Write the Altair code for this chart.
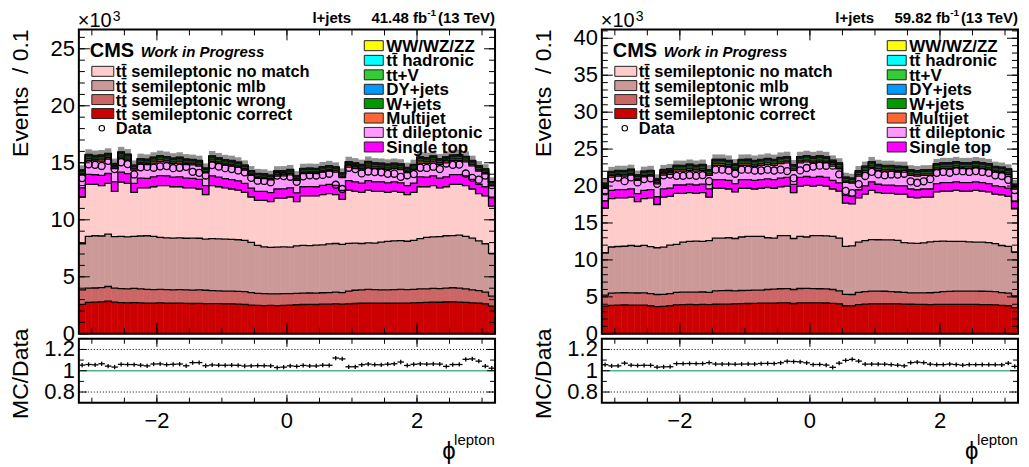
import altair as alt
import numpy as np
import pandas as pd

FONT = "Liberation Sans"
NB = 64
edges = np.round(np.linspace(-3.2, 3.2, NB + 1), 3)
lo, hi = edges[:-1], edges[1:]
mid = (lo + hi) / 2

names = ["tt̄ semileptonic correct", "tt̄ semileptonic wrong", "tt̄ semileptonic mlb",
         "tt̄ semileptonic no match", "Single top", "tt̄ dileptonic", "Multijet", "W+jets",
         "DY+jets", "tt+V", "tt̄ hadronic", "WW/WZ/ZZ"]
colors = ["#cc0000", "#cc6666", "#cc9999", "#ffcccc", "#ff00ff", "#ff99ff", "#ff6633",
          "#009900", "#0099ff", "#33cc33", "#00ffff", "#ffff00"]

# ---------------- 2017 (41.48 fb-1), values in thousands of events ----------------
top_correct_17 = [2.58,2.75,2.78,2.80,2.87,2.78,2.74,2.72,2.74,2.72, 2.70,2.70,2.72,2.69,2.68,2.69,2.67,2.66,2.67,2.65,
                  2.64,2.64,2.62,2.63,2.60,2.58,2.52,2.50,2.48,2.49, 2.48,2.50,2.52,2.55,2.57,2.58,2.57,2.60,2.60,2.62,
                  2.60,2.63,2.66,2.68,2.70,2.69,2.70,2.68,2.70,2.69, 2.70,2.72,2.74,2.76,2.78,2.77,2.79,2.80,2.78,2.76,
                  2.72,2.68,2.62,2.43]
top_wrong_17 = [3.86,4.00,4.02,4.05,4.15,4.00,3.97,3.95,3.98,3.95, 3.90,3.88,3.90,3.87,3.86,3.88,3.85,3.84,3.86,3.82,
                3.78,3.76,3.74,3.75,3.72,3.70,3.62,3.55,3.52,3.50, 3.51,3.53,3.52,3.55,3.57,3.58,3.56,3.60,3.62,3.65,
                3.62,3.75,3.82,3.86,3.90,3.88,3.86,3.85,3.88,3.90, 3.88,3.90,3.94,3.95,3.98,3.96,4.00,4.04,4.00,3.95,
                3.85,3.78,3.66,3.30]
top_mlb_17 = [7.90,8.55,8.60,8.58,8.75,8.52,8.55,8.50,8.55,8.58, 8.60,8.55,8.45,8.42,8.40,8.42,8.38,8.40,8.38,8.30,
              8.35,8.32,8.30,8.28,8.25,8.20,8.02,7.75,7.62,7.58, 7.60,7.62,7.60,7.72,7.75,7.73,7.78,7.80,7.88,7.92,
              7.85,7.93,7.95,7.92,7.98,7.95,8.05,8.10,8.15,8.18, 8.12,8.20,8.35,8.45,8.50,8.52,8.60,8.62,8.65,8.55,
              8.40,8.15,7.90,7.06]
top_nomatch_17 = [12.0,13.1,13.1,13.0,13.2,12.5,13.3,13.2,12.4,12.8, 12.8,12.9,13.0,13.0,12.9,12.9,12.8,12.8,12.7,12.2,
                  13.0,12.9,12.8,12.7,12.6,12.4,12.0,11.7,11.7,11.6, 11.9,11.9,12.0,11.6,12.1,12.1,12.1,12.2,12.3,12.2,
                  11.8,12.6,12.5,12.4,12.6,12.5,12.5,12.4,12.5,12.4, 12.2,12.4,12.9,12.9,13.0,12.8,12.9,13.1,13.1,13.0,
                  12.7,12.3,12.1,11.2]
singletop_17 = [0.80,0.88,0.85,0.90,0.86,0.82,0.88,0.85,0.80,0.86, 0.84,0.86,0.88,0.85,0.84,0.86,0.85,0.83,0.84,0.80,
                0.86,0.84,0.82,0.83,0.82,0.80,0.78,0.80,0.79,0.78, 0.80,0.81,0.80,0.77,0.80,0.81,0.80,0.82,0.81,0.82,
                0.78,0.84,0.83,0.82,0.84,0.83,0.82,0.83,0.82,0.83, 0.80,0.82,0.86,0.85,0.86,0.85,0.87,0.86,0.87,0.86,
                0.84,0.82,0.80,0.72]
dilep_17 = [1.15,1.25,1.22,1.24,1.26,1.18,1.24,1.20,1.16,1.22, 1.20,1.22,1.23,1.21,1.20,1.22,1.20,1.19,1.18,1.12,
            1.22,1.20,1.18,1.18,1.17,1.15,1.12,1.14,1.13,1.12, 1.14,1.15,1.14,1.10,1.15,1.16,1.15,1.16,1.17,1.16,
            1.12,1.18,1.17,1.16,1.19,1.18,1.17,1.18,1.17,1.18, 1.15,1.17,1.22,1.21,1.22,1.21,1.23,1.22,1.23,1.22,
            1.19,1.16,1.14,1.05]
multijet_17 = [0.12,0.16,0.14,0.18,0.15,0.13,0.17,0.16,0.12,0.15, 0.14,0.16,0.17,0.15,0.14,0.16,0.15,0.14,0.15,0.12,
               0.17,0.15,0.14,0.15,0.14,0.13,0.12,0.13,0.12,0.12, 0.14,0.13,0.14,0.12,0.14,0.13,0.14,0.15,0.14,0.13,
               0.12,0.16,0.15,0.14,0.16,0.15,0.14,0.15,0.14,0.15, 0.13,0.14,0.18,0.16,0.17,0.15,0.18,0.16,0.17,0.15,
               0.14,0.13,0.12,0.10]
wjets_17 = [0.19,0.21,0.20,0.22,0.21,0.19,0.22,0.21,0.19,0.21, 0.20,0.21,0.22,0.21,0.20,0.21,0.20,0.20,0.20,0.18,
            0.21,0.21,0.20,0.20,0.20,0.19,0.18,0.19,0.19,0.18, 0.19,0.19,0.19,0.18,0.19,0.20,0.19,0.20,0.20,0.19,
            0.18,0.20,0.20,0.20,0.21,0.20,0.20,0.20,0.20,0.20, 0.19,0.20,0.21,0.21,0.21,0.20,0.22,0.21,0.21,0.21,
            0.20,0.20,0.19,0.17]
dy_17 = [0.04,0.05,0.05,0.05,0.06,0.05,0.05,0.05,0.04,0.05, 0.05,0.05,0.05,0.05,0.05,0.05,0.05,0.05,0.05,0.04,
         0.05,0.05,0.05,0.05,0.05,0.05,0.04,0.04,0.04,0.04, 0.05,0.05,0.05,0.04,0.05,0.05,0.05,0.05,0.05,0.05,
         0.04,0.05,0.05,0.05,0.05,0.05,0.05,0.05,0.05,0.05, 0.05,0.05,0.05,0.05,0.06,0.05,0.05,0.05,0.05,0.05,
         0.05,0.05,0.04,0.04]
ttv_17 = [0.05,0.05,0.05,0.06,0.05,0.05,0.05,0.05,0.05,0.05, 0.05,0.05,0.05,0.05,0.05,0.05,0.05,0.05,0.05,0.05,
          0.05,0.05,0.05,0.05,0.05,0.05,0.04,0.04,0.04,0.04, 0.05,0.05,0.05,0.04,0.05,0.05,0.05,0.05,0.05,0.05,
          0.04,0.05,0.05,0.05,0.05,0.05,0.05,0.05,0.05,0.05, 0.05,0.05,0.05,0.05,0.05,0.05,0.06,0.05,0.05,0.05,
          0.05,0.05,0.05,0.04]
tthad_17 = [0.01,0.02,0.01,0.01,0.02,0.01,0.01,0.02,0.01,0.01, 0.01,0.02,0.01,0.01,0.01,0.02,0.01,0.01,0.01,0.01,
            0.02,0.01,0.01,0.01,0.01,0.01,0.01,0.01,0.01,0.01, 0.01,0.01,0.02,0.01,0.01,0.01,0.01,0.01,0.02,0.01,
            0.01,0.01,0.01,0.02,0.01,0.01,0.01,0.01,0.01,0.02, 0.01,0.01,0.02,0.01,0.01,0.01,0.02,0.01,0.01,0.01,
            0.01,0.01,0.01,0.01]
vv_17 = [0.02,0.02,0.02,0.02,0.02,0.02,0.03,0.02,0.02,0.02, 0.02,0.02,0.02,0.02,0.02,0.02,0.02,0.02,0.02,0.02,
         0.02,0.02,0.02,0.03,0.02,0.02,0.02,0.02,0.02,0.02, 0.02,0.02,0.02,0.02,0.02,0.02,0.02,0.02,0.02,0.02,
         0.02,0.02,0.03,0.02,0.02,0.02,0.02,0.02,0.02,0.02, 0.02,0.02,0.02,0.02,0.02,0.03,0.02,0.02,0.02,0.02,
         0.02,0.02,0.02,0.02]
data_17 = [13.66,14.87,14.82,14.72,15.17,14.45,15.05,14.89,13.98,14.61, 14.64,14.57,14.69,14.71,14.53,14.57,14.65,14.21,14.12,13.89,
           14.80,14.67,14.53,14.45,14.33,14.17,13.68,13.43,13.41,13.30, 13.88,13.84,13.78,13.33,13.82,13.90,13.89,13.94,14.04,13.07,
           12.70,14.57,14.45,14.07,14.24,14.19,14.17,14.03,14.04,13.77, 13.91,14.01,14.57,14.55,14.66,14.45,14.94,14.82,14.84,14.06,
           13.68,13.52,13.88,13.04]

# ---------------- 2018 (59.82 fb-1) ----------------
top_correct_18 = [3.75,3.86,3.88,3.90,3.89,3.87,3.88,3.80,3.68,3.70, 3.80,3.92,3.95,3.97,3.96,3.98,3.94,4.00,4.02,4.03,
                  4.05,4.08,4.10,4.12,4.15,4.16,4.15,4.18,4.19,4.10, 4.20,4.20,4.19,4.18,4.17,4.12,4.05,3.80,3.78,3.95,
                  4.02,4.06,4.05,4.06,4.04,4.05,4.03,4.00,3.98,3.97, 3.96,3.98,3.99,3.98,3.97,3.98,3.99,3.98,3.96,3.95,
                  3.92,3.85,3.80,3.55]
top_wrong_18 = [5.23,5.50,5.54,5.56,5.55,5.52,5.54,5.45,5.32,5.34, 5.45,5.60,5.63,5.65,5.64,5.66,5.60,5.80,5.84,5.86,
                5.82,5.86,5.88,5.90,5.92,6.00,6.05,6.10,6.12,6.00, 6.13,6.14,6.12,6.10,6.08,6.00,5.80,5.35,5.32,5.60,
                5.72,5.78,5.77,5.76,5.70,5.66,5.62,5.55,5.54,5.55, 5.56,5.62,5.70,5.74,5.77,5.78,5.77,5.78,5.76,5.74,
                5.70,5.58,5.50,5.14]
top_mlb_18 = [10.93,11.75,11.82,11.85,11.95,11.85,11.98,11.80,11.65,11.72, 12.00,12.10,12.40,12.50,12.55,12.50,12.60,12.95,12.95,13.00,
              12.90,13.10,13.18,13.20,13.18,13.00,12.95,13.30,13.30,12.90, 13.20,13.10,13.30,13.30,13.25,13.20,12.95,11.83,11.90,12.40,
              12.60,12.75,12.73,12.70,12.72,12.65,12.35,12.28,12.25,12.30, 12.45,12.50,12.55,12.50,12.52,12.50,12.45,12.42,12.40,12.35,
              12.20,11.95,11.83,11.07]
top_nomatch_18 = [17.0,18.3,18.4,18.4,18.5,17.9,18.3,18.4,17.5,18.5, 18.6,19.0,19.0,19.1,19.0,19.1,18.5,19.7,19.7,19.6,
                  19.2,19.7,19.7,19.6,19.7,19.8,19.7,19.9,20.0,19.1, 20.0,20.1,20.0,20.1,20.0,19.6,19.3,17.7,17.6,18.4,
                  18.9,19.4,19.1,19.0,19.0,18.9,18.9,18.5,18.4,18.5, 18.5,19.2,19.3,19.3,19.4,19.3,19.3,19.4,19.3,19.2,
                  18.9,18.8,18.6,16.9]
singletop_18 = [1.00,1.10,1.12,1.12,1.13,1.08,1.11,1.12,1.05,1.12, 1.13,1.14,1.14,1.15,1.14,1.15,1.11,1.17,1.17,1.16,
                1.14,1.17,1.17,1.16,1.17,1.17,1.16,1.18,1.18,1.13, 1.18,1.19,1.18,1.19,1.18,1.16,1.14,1.05,1.04,1.10,
                1.12,1.16,1.14,1.13,1.13,1.12,1.12,1.10,1.10,1.10, 1.10,1.14,1.15,1.15,1.16,1.15,1.15,1.16,1.15,1.14,
                1.12,1.12,1.11,1.00]
dilep_18 = [1.70,1.82,1.84,1.84,1.85,1.78,1.83,1.84,1.74,1.85, 1.86,1.88,1.88,1.89,1.88,1.89,1.84,1.93,1.93,1.92,
            1.88,1.93,1.93,1.92,1.93,1.94,1.93,1.95,1.96,1.88, 1.96,1.97,1.96,1.97,1.96,1.93,1.90,1.76,1.75,1.83,
            1.87,1.92,1.89,1.88,1.88,1.87,1.87,1.84,1.83,1.84, 1.84,1.90,1.91,1.91,1.92,1.91,1.91,1.92,1.91,1.90,
            1.87,1.86,1.85,1.68]
multijet_18 = [0.18,0.21,0.22,0.21,0.23,0.20,0.22,0.21,0.19,0.22, 0.22,0.23,0.22,0.24,0.23,0.22,0.21,0.25,0.24,0.23,
               0.22,0.24,0.25,0.23,0.24,0.25,0.24,0.26,0.25,0.22, 0.25,0.26,0.24,0.25,0.24,0.23,0.22,0.19,0.18,0.21,
               0.23,0.24,0.23,0.22,0.23,0.22,0.22,0.21,0.21,0.21, 0.22,0.23,0.24,0.23,0.24,0.23,0.24,0.23,0.23,0.22,
               0.22,0.21,0.21,0.17]
wjets_18 = [0.32,0.35,0.35,0.36,0.35,0.34,0.35,0.35,0.33,0.35, 0.36,0.36,0.36,0.37,0.36,0.37,0.35,0.37,0.37,0.37,
            0.36,0.37,0.37,0.37,0.37,0.38,0.37,0.38,0.38,0.36, 0.38,0.38,0.38,0.38,0.38,0.37,0.36,0.33,0.33,0.35,
            0.36,0.37,0.36,0.36,0.36,0.36,0.36,0.35,0.35,0.35, 0.35,0.36,0.37,0.37,0.37,0.37,0.37,0.37,0.37,0.36,
            0.36,0.36,0.35,0.32]
dy_18 = [0.06,0.07,0.07,0.07,0.07,0.07,0.07,0.07,0.06,0.07, 0.07,0.07,0.07,0.07,0.07,0.07,0.07,0.07,0.08,0.07,
         0.07,0.07,0.07,0.07,0.07,0.08,0.07,0.07,0.07,0.07, 0.07,0.08,0.07,0.07,0.07,0.07,0.07,0.06,0.06,0.07,
         0.07,0.07,0.07,0.07,0.07,0.07,0.07,0.07,0.07,0.07, 0.07,0.07,0.07,0.07,0.08,0.07,0.07,0.07,0.07,0.07,
         0.07,0.07,0.07,0.06]
ttv_18 = [0.07,0.08,0.08,0.08,0.08,0.08,0.08,0.08,0.07,0.08, 0.08,0.08,0.08,0.08,0.08,0.08,0.08,0.08,0.08,0.08,
          0.08,0.08,0.09,0.08,0.08,0.08,0.08,0.08,0.09,0.08, 0.08,0.08,0.08,0.09,0.08,0.08,0.08,0.07,0.07,0.08,
          0.08,0.08,0.08,0.08,0.08,0.08,0.08,0.08,0.08,0.08, 0.08,0.08,0.08,0.08,0.08,0.08,0.08,0.08,0.08,0.08,
          0.08,0.08,0.08,0.07]
tthad_18 = [0.02,0.02,0.02,0.02,0.03,0.02,0.02,0.02,0.02,0.02, 0.02,0.02,0.02,0.02,0.02,0.03,0.02,0.02,0.02,0.02,
            0.02,0.02,0.02,0.02,0.02,0.02,0.02,0.03,0.02,0.02, 0.02,0.02,0.02,0.02,0.02,0.02,0.02,0.02,0.02,0.02,
            0.02,0.02,0.02,0.02,0.02,0.03,0.02,0.02,0.02,0.02, 0.02,0.02,0.02,0.02,0.02,0.02,0.02,0.02,0.03,0.02,
            0.02,0.02,0.02,0.02]
vv_18 = [0.03,0.03,0.03,0.03,0.03,0.03,0.03,0.03,0.03,0.03, 0.03,0.03,0.03,0.03,0.03,0.03,0.03,0.03,0.03,0.03,
         0.03,0.03,0.03,0.03,0.03,0.03,0.03,0.03,0.03,0.03, 0.03,0.03,0.03,0.03,0.03,0.03,0.03,0.03,0.03,0.03,
         0.03,0.03,0.03,0.03,0.03,0.03,0.03,0.03,0.03,0.03, 0.03,0.03,0.03,0.03,0.03,0.03,0.03,0.03,0.03,0.03,
         0.03,0.03,0.03,0.03]
data_18 = [19.29,21.02,21.16,20.66,21.17,20.49,20.94,21.06,20.31,21.45, 21.56,21.38,21.38,21.49,21.38,21.49,20.65,22.22,22.22,22.10,
           21.67,22.22,22.22,22.10,22.11,22.22,22.10,22.22,22.02,21.07, 22.12,22.44,22.64,22.76,22.75,22.76,21.58,19.33,19.05,20.26,
           21.36,21.92,21.58,21.47,21.57,21.56,21.67,20.64,20.44,20.64, 20.93,21.79,21.91,21.80,22.02,22.01,21.91,22.02,21.91,21.79,
           21.46,21.36,20.85,19.45]

# tick labels
x_label_vals = [-2, 0, 2]
x_label_text = ["−2", "0", "2"]
ratio_label_vals = [0.8, 1.0, 1.2]
ratio_label_text = ["0.8", "1", "1.2"]

UNC = 0.028   # relative half-width of the hatched MC uncertainty band
RERR = 0.02   # half-height of the ratio error bars

W, H, HR = 417, 305, 64
xsc = alt.Scale(domain=[-3.2, 3.2], nice=False, zero=False)
rsc = alt.Scale(domain=[0.7, 1.3], nice=False, zero=False)
cscale = alt.Scale(domain=names, range=colors)
ONE = pd.DataFrame({"k": [0]})
LBL = 22   # tick label font size
TTL = 23   # axis title font size
TX = -51   # x of the rotated axis titles (relative to the plot's left edge)

left_leg = [(names[3], colors[3]), (names[2], colors[2]), (names[1], colors[1]), (names[0], colors[0])]
left_rows = [42, 56.3, 70.3, 84.3]
right_leg = [(names[11], colors[11]), (names[10], colors[10]), (names[9], colors[9]), (names[8], colors[8]),
             (names[7], colors[7]), (names[6], colors[6]), (names[5], colors[5]), (names[4], colors[4])]
right_rows = [16.3, 31.0, 45.5, 60.0, 74.3, 88.8, 103.2, 117.8]


def tick_layers(Wd, Hd, ysc, xmaj, xmin_, ymaj, ymin_, LM, Lm):
    out = []
    for vals, L in ((xmaj, LM), (xmin_, Lm)):
        d = pd.DataFrame({"v": vals})
        for a, b in ((Hd - L, Hd), (0, L)):
            out.append(alt.Chart(d).mark_rule(color="black", strokeWidth=1).encode(
                x=alt.X("v:Q", scale=xsc, axis=None), y=alt.value(a), y2=alt.value(b)))
    for vals, L in ((ymaj, LM), (ymin_, Lm)):
        d = pd.DataFrame({"v": vals})
        for a, b in ((0, L), (Wd - L, Wd)):
            out.append(alt.Chart(d).mark_rule(color="black", strokeWidth=1).encode(
                y=alt.Y("v:Q", scale=ysc, axis=None), x=alt.value(a), x2=alt.value(b)))
    return out


def ylabels(vals, texts, ysc):
    d = pd.DataFrame({"v": vals, "t": texts})
    return alt.Chart(d).mark_text(align="right", baseline="middle", font=FONT, fontSize=LBL,
                                  color="black").encode(
        y=alt.Y("v:Q", scale=ysc, axis=None), x=alt.value(-4), text="t:N")


def txt(t, x, y, fs, align="left", weight="normal", style="normal", baseline="alphabetic", angle=0):
    return alt.Chart(ONE).mark_text(text=t, align=align, baseline=baseline, font=FONT, fontSize=fs,
                                    fontWeight=weight, fontStyle=style, color="black", angle=angle).encode(
        x=alt.value(x), y=alt.value(y))


def box(x0, x1, y0, y1, col):
    return alt.Chart(ONE).mark_rect(color=col, stroke="#222222", strokeWidth=1).encode(
        x=alt.value(x0), x2=alt.value(x1), y=alt.value(y0), y2=alt.value(y1))


def frame(Wd, Hd):
    return alt.Chart(ONE).mark_rect(fillOpacity=0, stroke="black", strokeWidth=2).encode(
        x=alt.value(0), x2=alt.value(Wd), y=alt.value(0), y2=alt.value(Hd))


def build_panel(tops, extras, data, ymax, lumi):
    comps = [np.asarray(tops[0], float)]
    for a, b in zip(tops[:-1], tops[1:]):
        comps.append(np.asarray(b, float) - np.asarray(a, float))
    comps += [np.asarray(e, float) for e in extras]
    stack = np.vstack(comps)
    assert stack.shape == (12, NB), stack.shape
    cum = np.cumsum(stack, axis=0)
    base = np.vstack([np.zeros(NB), cum[:-1]])
    tot = cum[-1]
    dat = np.asarray(data, float)
    assert dat.shape == (NB,)

    rect_rows, line_rows = [], []
    for k, nm in enumerate(names):
        for i in range(NB):
            rect_rows.append(dict(lo=lo[i], hi=hi[i], y0=base[k, i], y1=cum[k, i], comp=nm))
            line_rows.append(dict(x=lo[i], top=cum[k, i], comp=nm))
        line_rows.append(dict(x=hi[-1], top=cum[k, -1], comp=nm))
    rect_df = pd.DataFrame(rect_rows)
    line_df = pd.DataFrame(line_rows)
    tot_df = pd.DataFrame(dict(lo=lo, hi=hi, mid=mid, tot=tot, b0=tot * (1 - UNC), b1=tot * (1 + UNC), data=dat))
    ratio = tot / dat
    rat_df = pd.DataFrame(dict(lo=lo, hi=hi, mid=mid, r=ratio, r0=ratio - RERR, r1=ratio + RERR))

    ysc = alt.Scale(domain=[0, ymax], nice=False, zero=False)
    ymaj = list(range(0, int(ymax) + 1, 5))
    ymin_ = list(range(0, int(ymax) + 1))

    rects = alt.Chart(rect_df).mark_rect(strokeWidth=0.6).encode(
        x=alt.X("lo:Q", scale=xsc, axis=None), x2="hi:Q",
        y=alt.Y("y0:Q", scale=ysc, axis=None), y2="y1:Q",
        color=alt.Color("comp:N", scale=cscale, legend=None),
        stroke=alt.Stroke("comp:N", scale=cscale, legend=None))
    lines = alt.Chart(line_df).mark_line(interpolate="step-after", color="black", strokeWidth=1.3).encode(
        x=alt.X("x:Q", scale=xsc, axis=None), y=alt.Y("top:Q", scale=ysc, axis=None),
        detail="comp:N", order="x:Q")
    band = alt.Chart(tot_df).mark_rect(color="#222222", opacity=0.5).encode(
        x=alt.X("lo:Q", scale=xsc, axis=None), x2="hi:Q",
        y=alt.Y("b0:Q", scale=ysc, axis=None), y2="b1:Q")
    pts = alt.Chart(tot_df).mark_point(shape="circle", filled=False, color="black", size=50,
                                       strokeWidth=1.3, opacity=1).encode(
        x=alt.X("mid:Q", scale=xsc, axis=None), y=alt.Y("data:Q", scale=ysc, axis=None))

    ticks = tick_layers(W, H, ysc, [-2, 0, 2], list(np.arange(-3, 3.01, 0.5)), ymaj, ymin_, 11, 6)

    deco = [ylabels(ymaj, [str(v) for v in ymaj], ysc),
            txt("Events\u00a0\u00a0/ 0.1", TX, 0, TTL, align="right", angle=270)]
    for (nm, col), yc in zip(left_leg, left_rows):
        deco.append(box(13, 35, yc - 5, yc + 5, col))
        deco.append(txt(nm, 37, yc + 6, 16.5, weight="bold"))
    for (nm, col), yc in zip(right_leg, right_rows):
        deco.append(box(286, 305, yc - 5, yc + 5, col))
        deco.append(txt(nm, 308, yc + 6, 17, weight="bold"))
    deco.append(alt.Chart(ONE).mark_point(shape="circle", filled=False, color="black", size=30,
                                          strokeWidth=1.1, opacity=1).encode(x=alt.value(23), y=alt.value(99)))
    deco.append(txt("Data", 37, 105, 16.5, weight="bold"))
    deco.append(txt("CMS", 11, 28, 20, weight="bold"))
    deco.append(txt("Work in Progress", 62, 28, 15, weight="bold", style="italic"))
    deco.append(txt("l+jets", 234, -6, 15, weight="bold"))
    deco.append(txt(lumi + " fb", 349, -6, 15, align="right", weight="bold"))
    deco.append(txt("-1", 358, -13, 10, align="right", weight="bold"))
    deco.append(txt("(13 TeV)", 417, -6, 15, align="right", weight="bold"))
    deco.append(txt("×10", -1, -2, 20))
    deco.append(txt("3", 34, -8, 14))

    main = alt.layer(rects, lines, band, pts, *ticks, frame(W, H), *deco).properties(width=W, height=H)

    # ratio panel
    dotted = alt.Chart(pd.DataFrame({"v": [0.8, 1.2]})).mark_rule(color="black", strokeWidth=1,
                                                                   strokeDash=[1, 2]).encode(
        y=alt.Y("v:Q", scale=rsc, axis=None), x=alt.value(0), x2=alt.value(W))
    unity = alt.Chart(pd.DataFrame({"v": [1.0]})).mark_rule(color="#52b384", strokeWidth=1.5).encode(
        y=alt.Y("v:Q", scale=rsc, axis=None), x=alt.value(0), x2=alt.value(W))
    hbar = alt.Chart(rat_df).mark_rule(color="black", strokeWidth=1.3).encode(
        x=alt.X("lo:Q", scale=xsc, axis=None), x2="hi:Q", y=alt.Y("r:Q", scale=rsc, axis=None))
    vbar = alt.Chart(rat_df).mark_rule(color="black", strokeWidth=1.3).encode(
        x=alt.X("mid:Q", scale=xsc, axis=None), y=alt.Y("r0:Q", scale=rsc, axis=None), y2="r1:Q")
    rticks = tick_layers(W, HR, rsc, [-2, 0, 2], list(np.arange(-3, 3.01, 0.5)), [0.8, 1.0, 1.2],
                         [0.9, 1.1], 8, 5)
    xl = alt.Chart(pd.DataFrame({"v": x_label_vals, "t": x_label_text})).mark_text(
        align="center", baseline="alphabetic", font=FONT, fontSize=LBL, color="black").encode(
        x=alt.X("v:Q", scale=xsc, axis=None), y=alt.value(HR + 25), text="t:N")
    rdeco = [ylabels(ratio_label_vals, ratio_label_text, rsc), xl,
             txt("MC/Data", TX, HR / 2 + 3, TTL, align="center", angle=270),
             txt("ϕ", 364, 120, 24), txt("lepton", 376, 106, 15)]
    ratio_chart = alt.layer(dotted, unity, hbar, vbar, *rticks, frame(W, HR), *rdeco).properties(
        width=W, height=HR)

    return alt.vconcat(main, ratio_chart, spacing=5, bounds="flush")


left = build_panel([top_correct_17, top_wrong_17, top_mlb_17, top_nomatch_17],
                   [singletop_17, dilep_17, multijet_17, wjets_17, dy_17, ttv_17, tthad_17, vv_17],
                   data_17, 26.7, "41.48")
right = build_panel([top_correct_18, top_wrong_18, top_mlb_18, top_nomatch_18],
                    [singletop_18, dilep_18, multijet_18, wjets_18, dy_18, ttv_18, tthad_18, vv_18],
                    data_18, 41.2, "59.82")

chart = alt.hconcat(left, right, spacing=35).properties(
    padding={"left": 2, "top": 0, "right": 0, "bottom": 0}).configure(
    font=FONT).configure_view(strokeWidth=0)

chart.save("out.html", embed_options={"renderer": "svg", "actions": False})
